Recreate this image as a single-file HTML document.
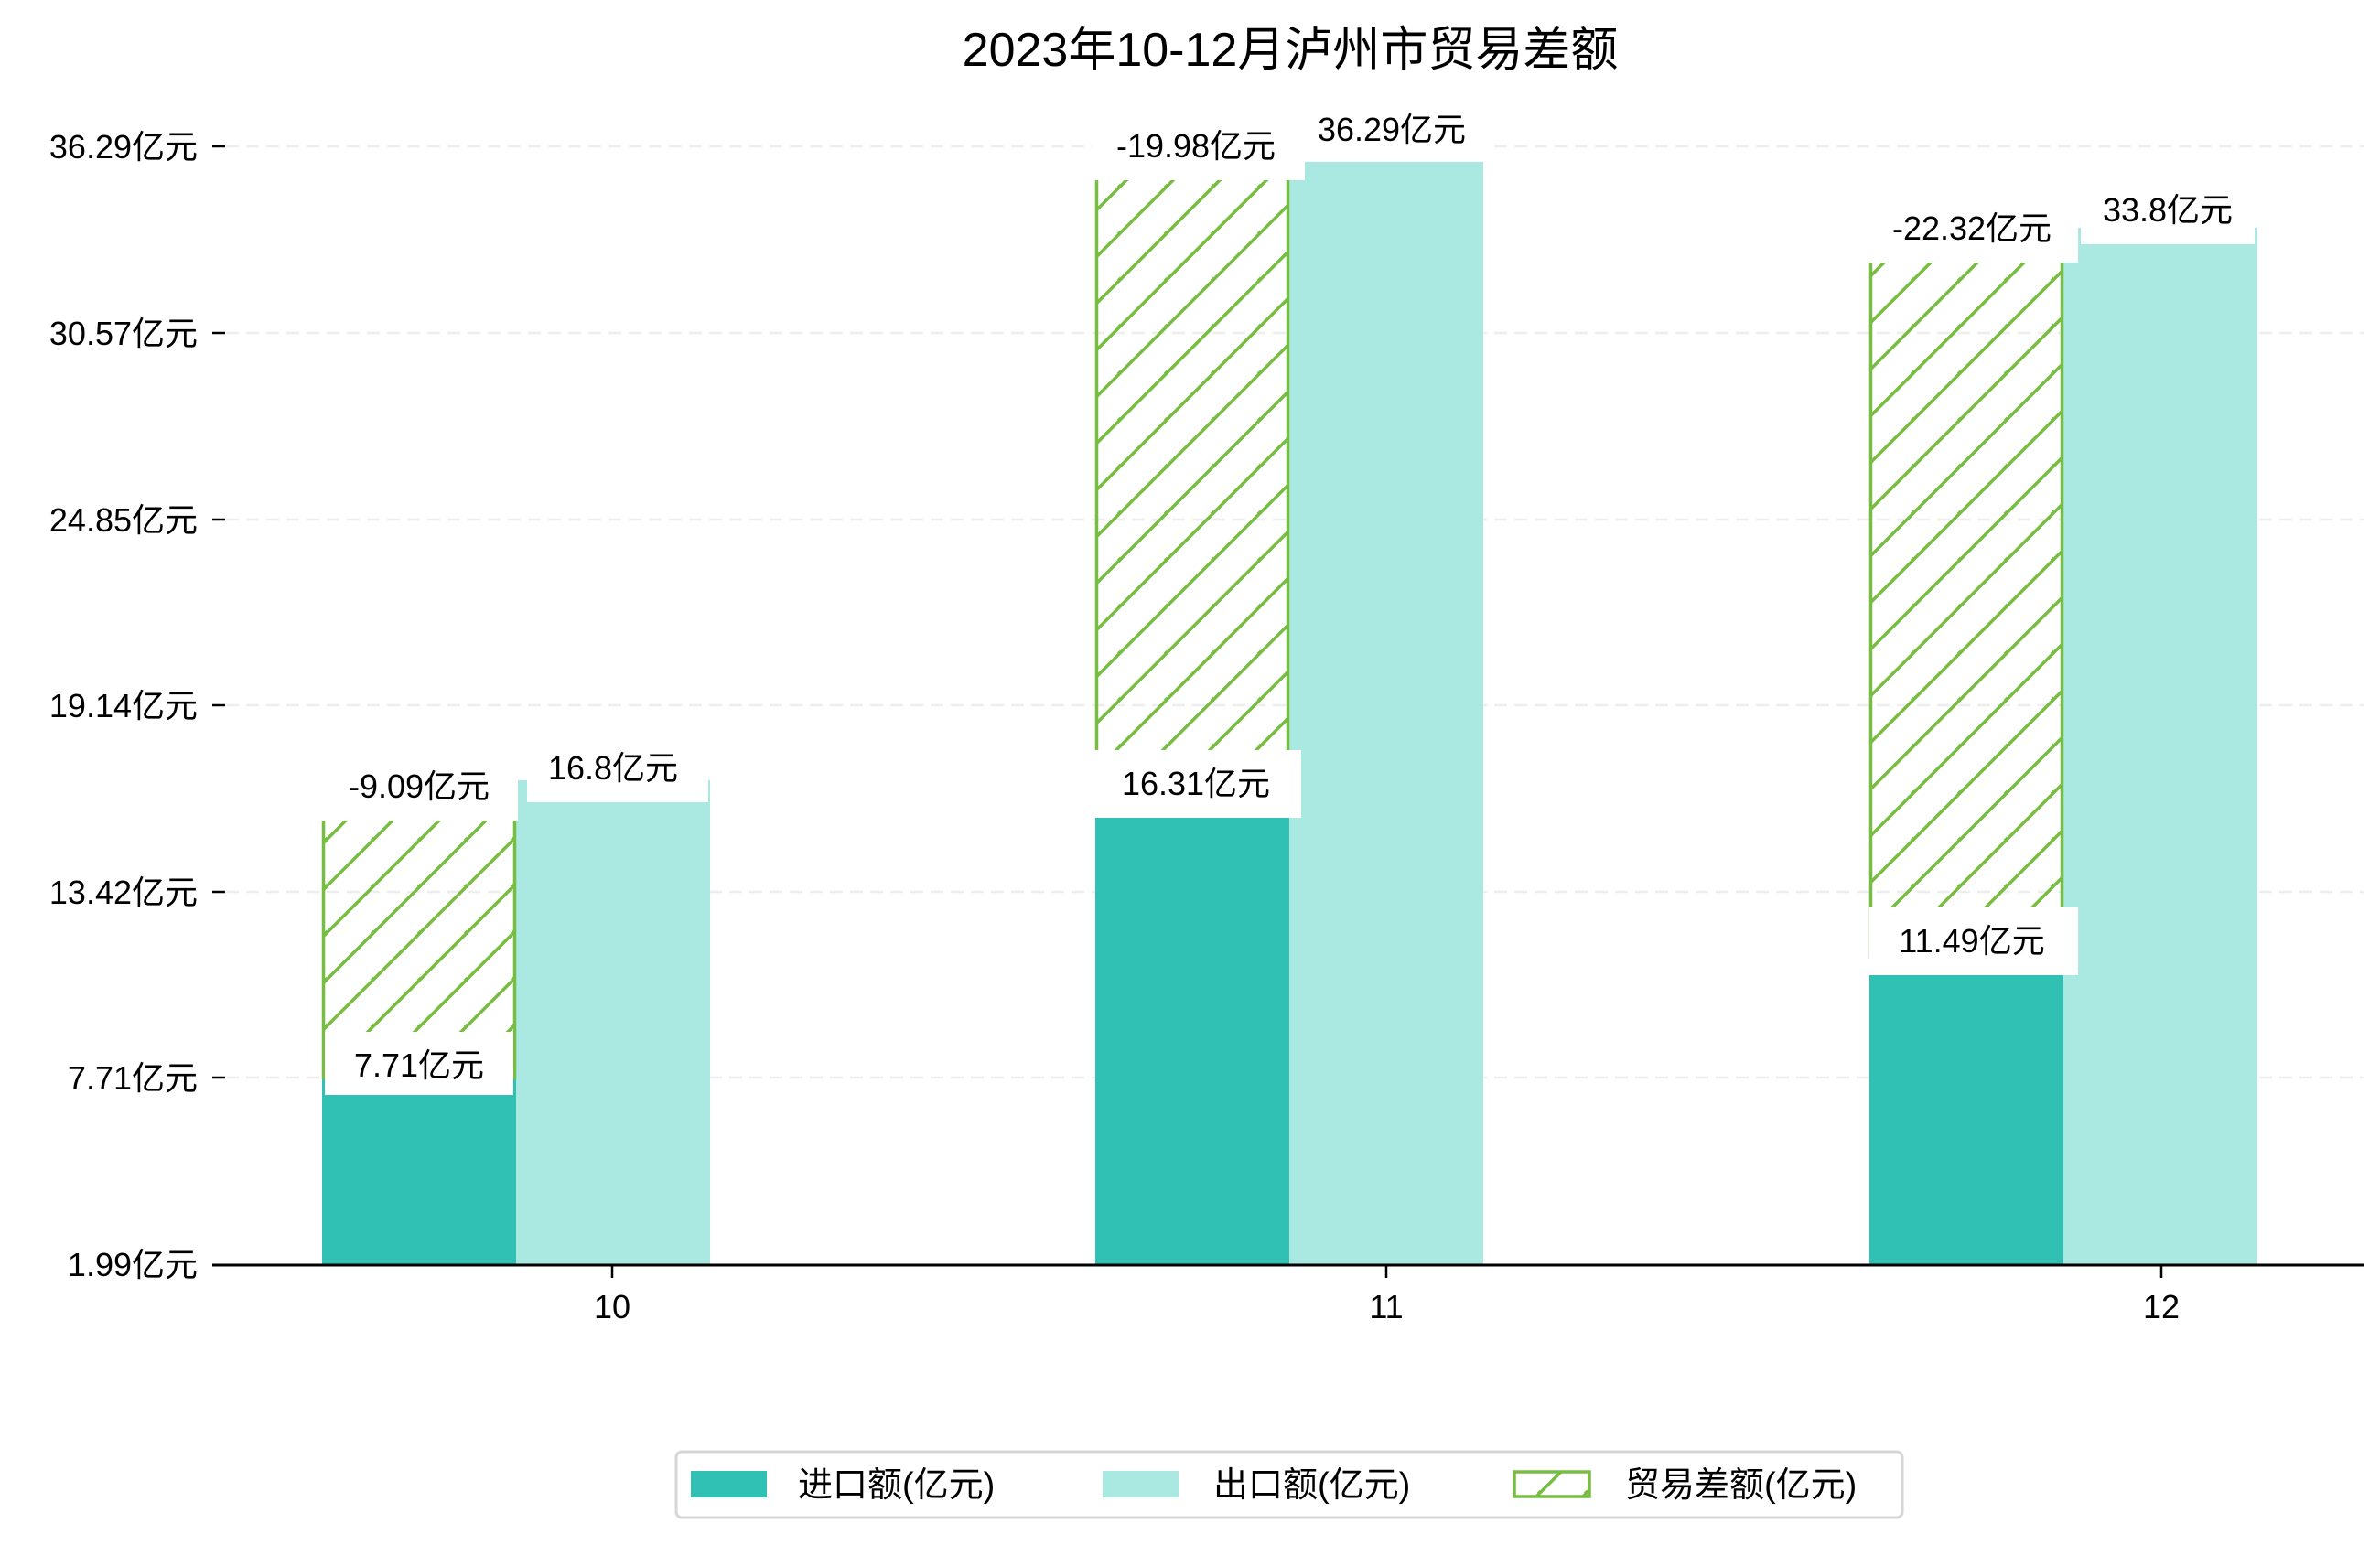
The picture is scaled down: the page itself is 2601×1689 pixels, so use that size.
<!DOCTYPE html>
<html><head><meta charset="utf-8"><style>
html,body{margin:0;padding:0;background:#fff;}
svg{display:block;}
text{font-family:"Liberation Sans","Noto Sans CJK SC",sans-serif;fill:#000;}
</style></head><body>
<svg width="2601" height="1689" viewBox="0 0 2601 1689" xmlns="http://www.w3.org/2000/svg">
<defs>
<pattern id="h" patternUnits="userSpaceOnUse" width="51" height="51">
<line x1="-5" y1="56" x2="56" y2="-5" stroke="#77bd41" stroke-width="3.5"/>
<line x1="-30" y1="30" x2="30" y2="-30" stroke="#77bd41" stroke-width="3.5"/>
<line x1="20" y1="81" x2="81" y2="20" stroke="#77bd41" stroke-width="3.5"/>
</pattern>
</defs>
<text x="1410" y="72" font-size="52" text-anchor="middle">2023年10-12月泸州市贸易差额</text>
<g stroke="#eeeeee" stroke-width="2.5" stroke-dasharray="14,8">
<line x1="247" y1="160" x2="2584" y2="160"/>
<line x1="247" y1="364" x2="2584" y2="364"/>
<line x1="247" y1="568" x2="2584" y2="568"/>
<line x1="247" y1="771" x2="2584" y2="771"/>
<line x1="247" y1="975" x2="2584" y2="975"/>
<line x1="247" y1="1178" x2="2584" y2="1178"/>
</g>
<g stroke="#000" stroke-width="2.5">
<line x1="232" y1="160" x2="246" y2="160"/>
<line x1="232" y1="364" x2="246" y2="364"/>
<line x1="232" y1="568" x2="246" y2="568"/>
<line x1="232" y1="771" x2="246" y2="771"/>
<line x1="232" y1="975" x2="246" y2="975"/>
<line x1="232" y1="1178" x2="246" y2="1178"/>
</g>
<g font-size="36" text-anchor="end">
<text x="216" y="173">36.29亿元</text>
<text x="216" y="377">30.57亿元</text>
<text x="216" y="581">24.85亿元</text>
<text x="216" y="784">19.14亿元</text>
<text x="216" y="988">13.42亿元</text>
<text x="216" y="1191">7.71亿元</text>
<text x="216" y="1395">1.99亿元</text>
</g>
<g fill="#31c1b4">
<rect x="352" y="1178" width="212" height="204"/>
<rect x="1197" y="874" width="212" height="508"/>
<rect x="2043" y="1046" width="212" height="336"/>
</g>
<g fill="#aae8e2">
<rect x="564" y="853" width="212" height="529"/>
<rect x="1409" y="160" width="212" height="1222"/>
<rect x="2255" y="249" width="212" height="1133"/>
</g>
<g fill="url(#h)" stroke="#77bd41" stroke-width="3.5">
<rect x="353.5" y="880" width="209" height="298"/>
<rect x="1198.5" y="160" width="209" height="714"/>
<rect x="2044.5" y="270" width="209" height="776"/>
</g>
<g fill="#fff">
<rect x="350" y="823" width="216" height="74"/>
<rect x="576" y="803" width="198" height="74"/>
<rect x="355" y="1128" width="206" height="69"/>
<rect x="1194" y="123" width="232" height="74"/>
<rect x="1425" y="105" width="200" height="72"/>
<rect x="1194" y="820" width="228" height="74"/>
<rect x="2040" y="213" width="231" height="74"/>
<rect x="2274" y="193" width="190" height="74"/>
<rect x="2043" y="992" width="228" height="74"/>
</g>
<g font-size="36" text-anchor="middle">
<text x="458" y="872">-9.09亿元</text>
<text x="670" y="852">16.8亿元</text>
<text x="458" y="1177">7.71亿元</text>
<text x="1307" y="172">-19.98亿元</text>
<text x="1521" y="154">36.29亿元</text>
<text x="1307" y="869">16.31亿元</text>
<text x="2155" y="262">-22.32亿元</text>
<text x="2369" y="242">33.8亿元</text>
<text x="2155" y="1041">11.49亿元</text>
</g>
<line x1="232" y1="1383" x2="2584" y2="1383" stroke="#000" stroke-width="3"/>
<g stroke="#000" stroke-width="2.5">
<line x1="669" y1="1383" x2="669" y2="1397"/>
<line x1="1515" y1="1383" x2="1515" y2="1397"/>
<line x1="2362" y1="1383" x2="2362" y2="1397"/>
</g>
<g font-size="36" text-anchor="middle">
<text x="669" y="1441">10</text>
<text x="1515" y="1441">11</text>
<text x="2362" y="1441">12</text>
</g>
<rect x="739" y="1587" width="1340" height="72" rx="6" fill="#fff" stroke="#d6d6d6" stroke-width="3"/>
<rect x="755" y="1608" width="83" height="29" fill="#31c1b4"/>
<rect x="1205" y="1608" width="83" height="29" fill="#aae8e2"/>
<rect x="1655" y="1609" width="82" height="27" fill="url(#h)" stroke="#77bd41" stroke-width="3.5"/>
<g font-size="38">
<text x="872" y="1636">进口额(亿元)</text>
<text x="1326" y="1636">出口额(亿元)</text>
<text x="1776" y="1636">贸易差额(亿元)</text>
</g>
</svg>
</body></html>
